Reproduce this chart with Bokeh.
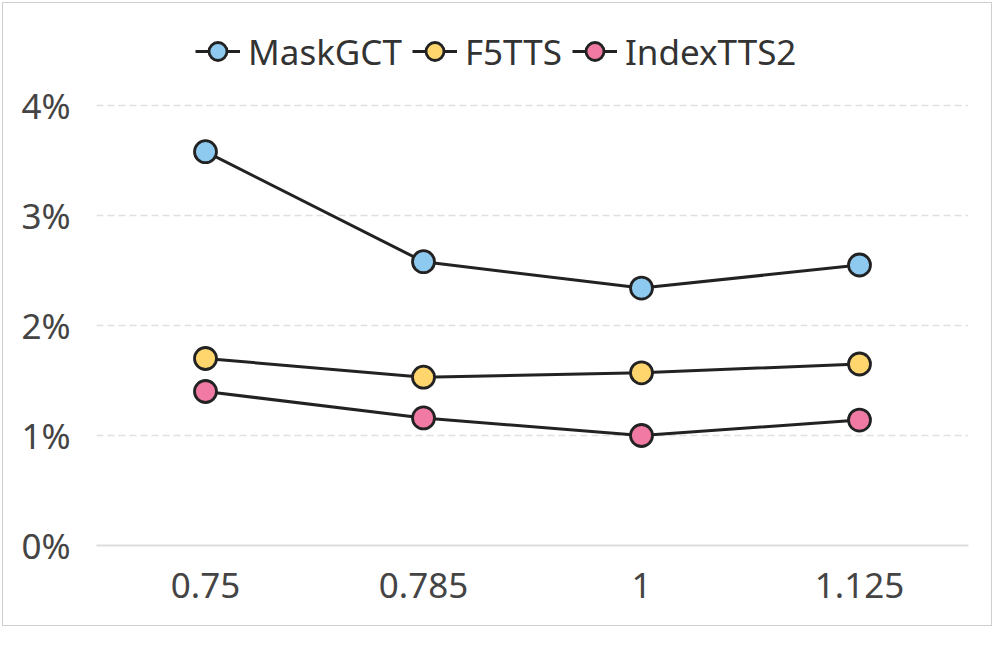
from bokeh.plotting import figure
from bokeh.models import FactorRange, Range1d, FixedTicker, PrintfTickFormatter, Legend, LegendItem
from bokeh.embed import file_html
from bokeh.resources import INLINE

categories = ["0.75", "0.785", "1", "1.125"]
maskgct = [3.58, 2.58, 2.34, 2.55]
f5tts = [1.70, 1.53, 1.57, 1.65]
indextts2 = [1.40, 1.16, 1.00, 1.14]
series_names = ["MaskGCT", "F5TTS", "IndexTTS2"]
series_colors = ["#8ECAEF", "#FFD66E", "#F07AA3"]
y_ticks = [0, 1, 2, 3, 4]

FONT = "Noto Sans"

p = figure(width=990, height=624, output_backend="svg", toolbar_location=None,
           x_range=FactorRange(*categories, range_padding=0),
           y_range=Range1d(0, (545 - 13) / 110),
           min_border_left=93, min_border_right=25, min_border_top=10, min_border_bottom=82,
           styles={"border": "1px solid #cfcfcf", "margin": "2px 0 0 2px"})
p.outline_line_color = None
p.background_fill_color = "white"
p.border_fill_color = "white"

p.xgrid.grid_line_color = None
p.ygrid.ticker = FixedTicker(ticks=[1, 2, 3, 4])
p.ygrid.grid_line_color = "#e0e0e0"
p.ygrid.grid_line_dash = "7 4"
p.ygrid.grid_line_width = 1.5

p.yaxis.ticker = FixedTicker(ticks=y_ticks)
p.yaxis.formatter = PrintfTickFormatter(format="%d%%")
for ax in (p.xaxis[0], p.yaxis[0]):
    ax.major_tick_line_color = None
    ax.minor_tick_line_color = None
    ax.major_label_text_font = FONT
    ax.major_label_text_font_size = "35px"
    ax.major_label_text_color = "#444444"
p.yaxis.axis_line_color = None
p.xaxis.axis_line_color = "#dddddd"
p.xaxis.axis_line_width = 2
p.yaxis.major_label_standoff = 20
p.xaxis.major_label_standoff = 21

items = []
for name, vals, col in zip(series_names, [maskgct, f5tts, indextts2], series_colors):
    l = p.line(categories, vals, line_color="#222222", line_width=3)
    s = p.scatter(categories, vals, size=22, fill_color=col, line_color="#222222", line_width=2.8)
    items.append(LegendItem(label=name, renderers=[l, s]))

legend = Legend(items=items, orientation="horizontal", location=(99, 469),
                label_text_font=FONT, label_text_font_size="35px", label_text_color="#333333",
                label_text_baseline="middle",
                glyph_width=45, glyph_height=50, label_height=50, label_standoff=8,
                spacing=10, padding=0, margin=0, border_line_color=None,
                background_fill_alpha=0)
p.add_layout(legend)

open("out.html", "w").write(file_html(p, INLINE))
